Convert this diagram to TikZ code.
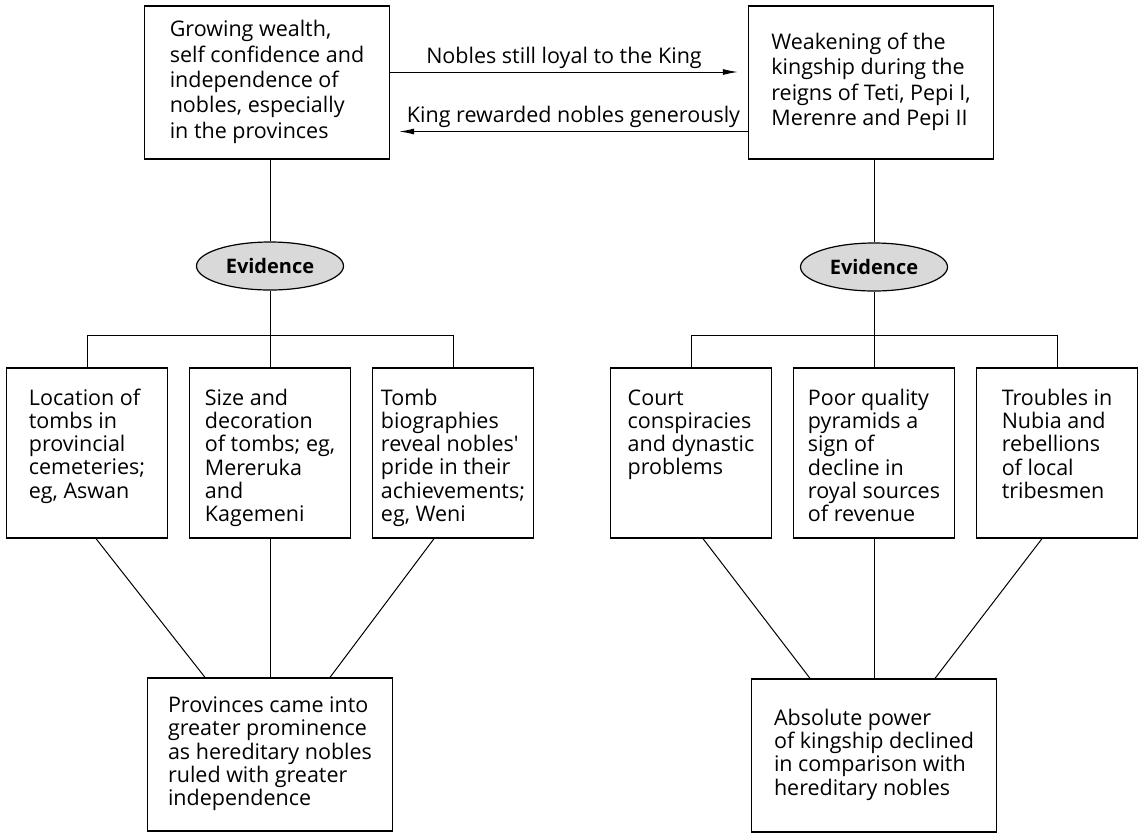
\documentclass[tikz,border=0pt]{standalone}
\usepackage{fontspec}
\setmainfont{Open Sans}
\usetikzlibrary{shapes.geometric,arrows.meta}

\newcommand{\boxlines}[1]{\begin{tabular}[t]{@{}l@{}}#1\end{tabular}}

\begin{document}
\begin{tikzpicture}[x=1pt,y=-1pt,
  topbox/.style={draw,line width=1.3pt,minimum width=245pt,minimum height=153pt,inner sep=0pt,font=\fontsize{21.5}{25.3}\selectfont},
  rowbox/.style={draw,line width=1.3pt,minimum width=161pt,inner xsep=0pt,inner ysep=8pt,text height=29pt,text depth=125pt,font=\fontsize{21.5}{23.3}\selectfont},
  endbox/.style={draw,line width=1.3pt,minimum width=245pt,minimum height=153pt,inner sep=0pt,font=\fontsize{21.5}{23.3}\selectfont},
  evid/.style={ellipse,draw,line width=1.2pt,fill=black!15,minimum width=147pt,minimum height=48pt,inner sep=0pt,font=\fontsize{20}{24}\selectfont\bfseries},
  link/.style={line width=1pt},
  arr/.style={line width=1pt,-{Latex[length=15pt,width=6pt]}},
  lab/.style={font=\fontsize{21.5}{24}\selectfont,inner sep=3pt}]
\useasboundingbox (0,0) rectangle (1140,833);

\node[topbox] (A1) at (267,82.5) {\boxlines{Growing wealth,\\self confidence and\\independence of\\nobles, especially\\in the provinces}};
\node[topbox] (A2) at (871,82.5) {\boxlines{Weakening of the\\kingship during the\\reigns of Teti, Pepi I,\\Merenre and Pepi II}};

\node[evid] (E1) at (270,266) {Evidence};
\node[evid] (E2) at (874,267) {Evidence};

\node[rowbox] (B1) at (87,453) {\boxlines{Location of\\tombs in\\provincial\\cemeteries;\\eg, Aswan}};
\node[rowbox] (B2) at (270,453) {\boxlines{Size and\\decoration\\of tombs; eg,\\Mereruka\\and\\Kagemeni}};
\node[rowbox] (B3) at (453,453) {\boxlines{Tomb\\biographies\\reveal nobles\textquotesingle\\pride in their\\achievements;\\eg, Weni}};
\node[rowbox] (B4) at (691,453) {\boxlines{Court\\conspiracies\\and dynastic\\problems}};
\node[rowbox] (B5) at (874,453) {\boxlines{Poor quality\\pyramids a\\sign of\\decline in\\royal sources\\of revenue}};
\node[rowbox] (B6) at (1057,453) {\boxlines{Troubles in\\Nubia and\\rebellions\\of local\\tribesmen}};

\node[endbox] (C1) at (270,754.5) {\boxlines{Provinces came into\\greater prominence\\as hereditary nobles\\ruled with greater\\independence}};
\node[endbox] (C2) at (874,755.5) {\boxlines{Absolute power\\of kingship declined\\in comparison with\\hereditary nobles}};

\path[arr] ([yshift=10.5pt]A1.east) edge node[lab,above]{Nobles still loyal to the King} ([xshift=-10pt,yshift=10.5pt]A2.west);
\path[arr] ([yshift=-49pt]A2.west) edge node[lab,above]{King rewarded nobles generously} ([xshift=9pt,yshift=-49pt]A1.east);

\path[link] (A1.south -| E1) edge (E1);
\path[link] (A2.south -| E2) edge (E2);
\path[link] (E1) edge (B2.north);
\path[link] (E2) edge (B5.north);
\draw[link] (B1.north) -- ++(0,-32) -| (B3.north);
\draw[link] (B4.north) -- ++(0,-32) -| (B6.north);

\path[link] ([xshift=9pt]B1.south) edge ([xshift=-65pt]C1.north);
\path[link] (B2.south) edge (C1.north);
\path[link] ([xshift=-19pt]B3.south) edge ([xshift=60pt]C1.north);
\path[link] ([xshift=12pt]B4.south) edge ([xshift=-64pt]C2.north);
\path[link] (B5.south) edge (C2.north);
\path[link] ([xshift=-15pt]B6.south) edge ([xshift=61pt]C2.north);
\end{tikzpicture}
\end{document}
